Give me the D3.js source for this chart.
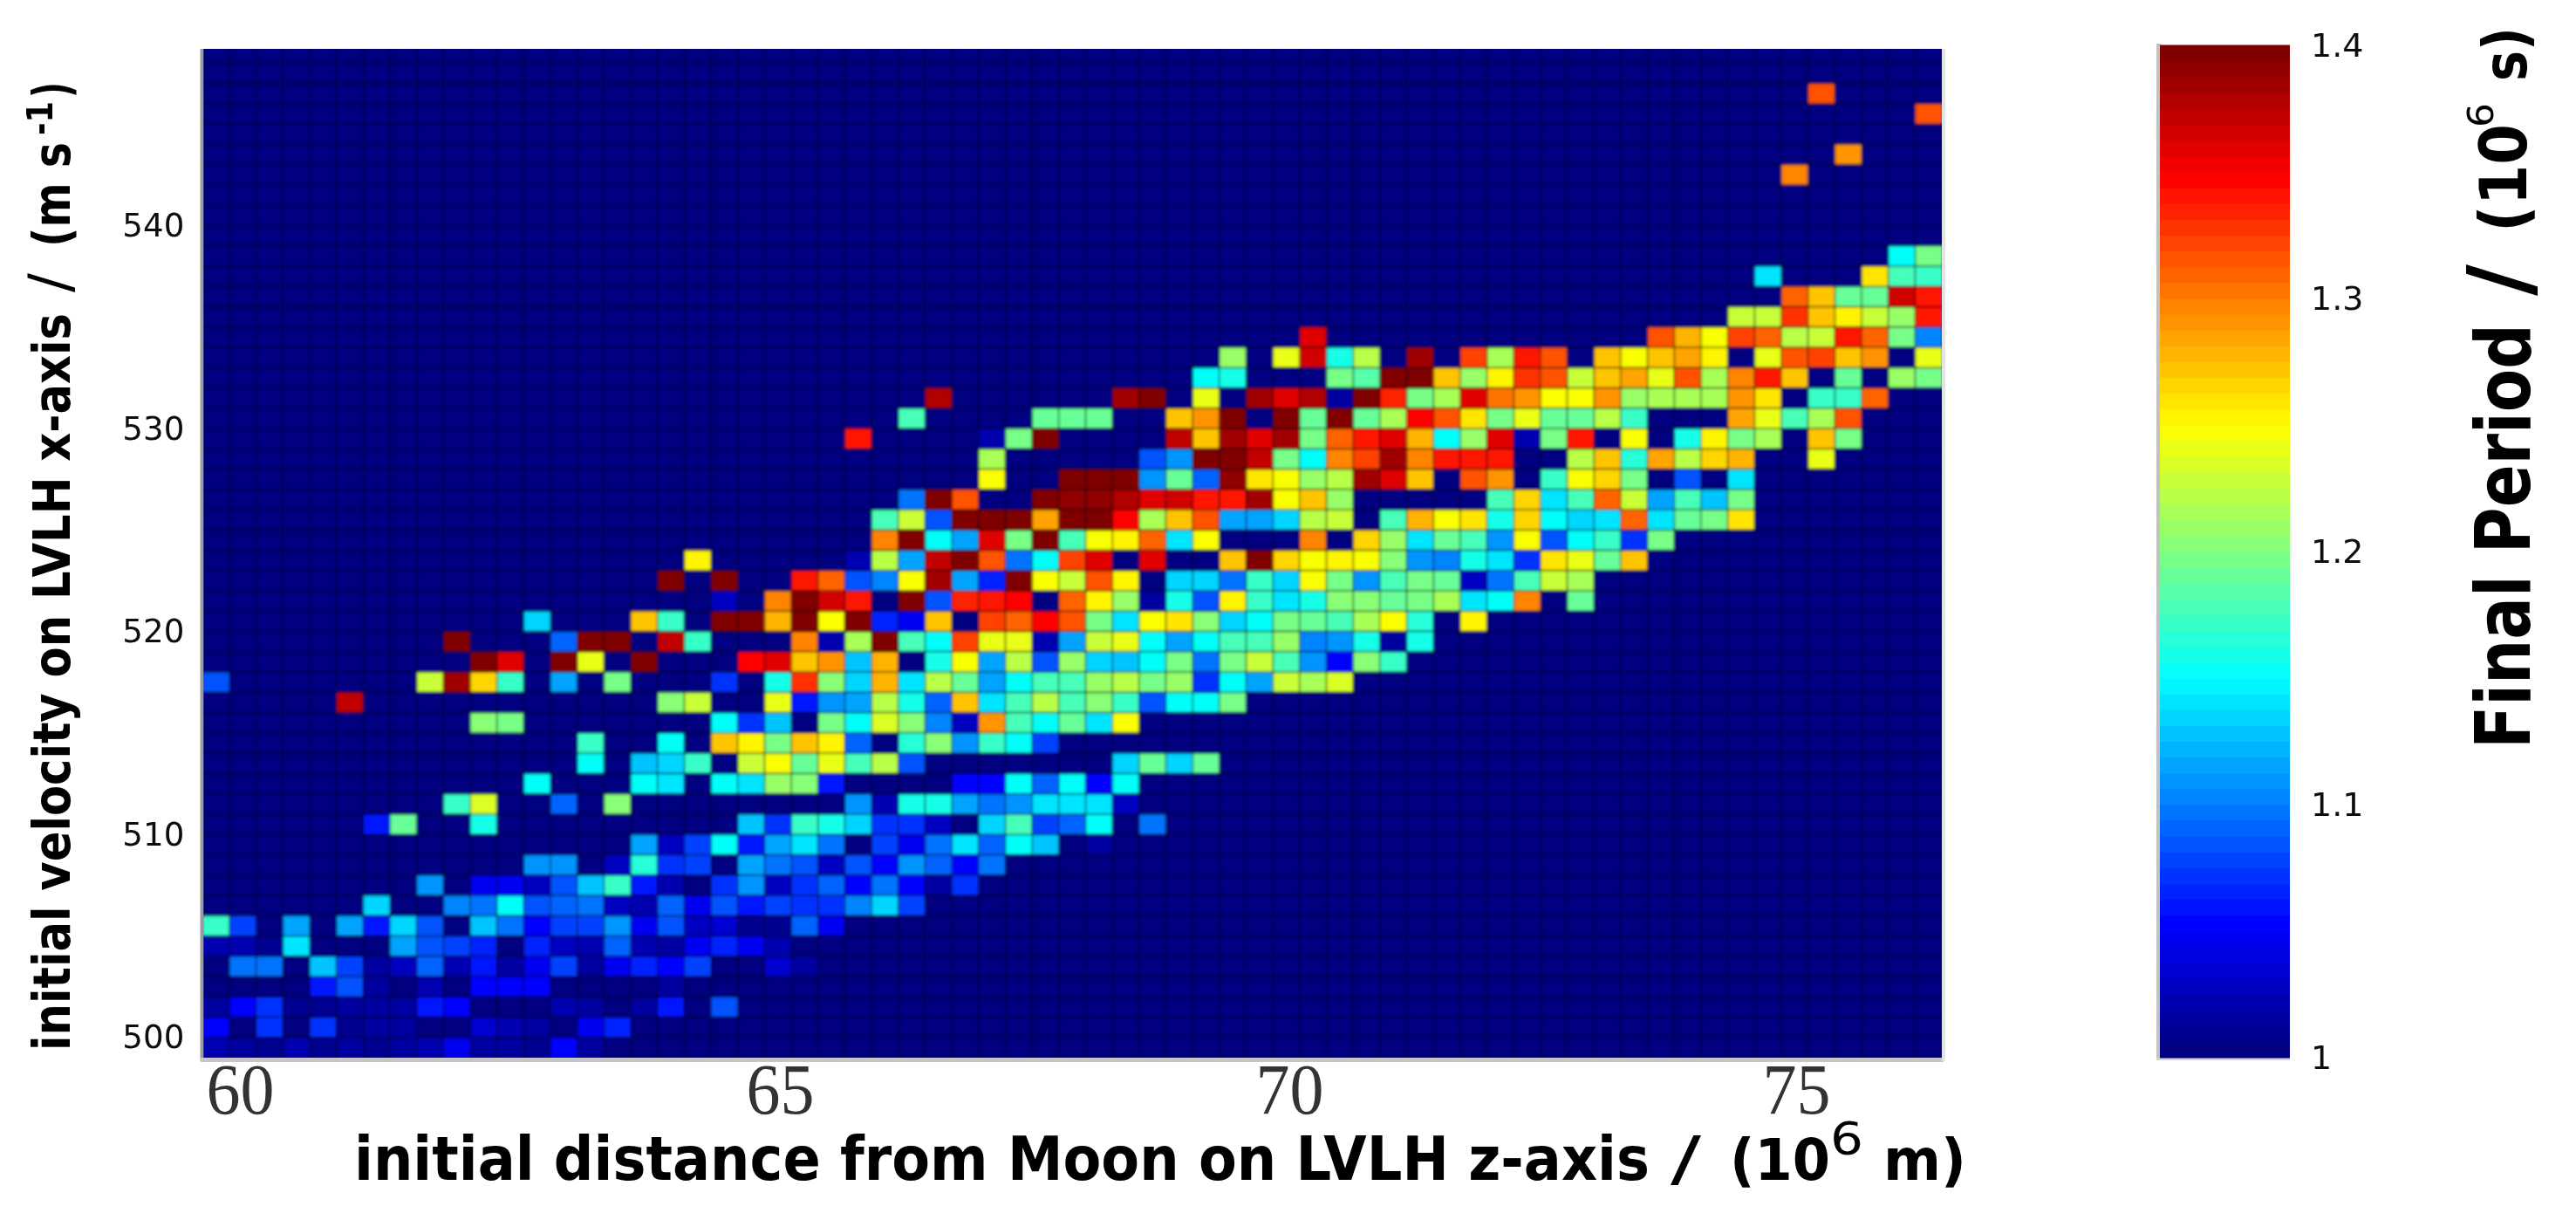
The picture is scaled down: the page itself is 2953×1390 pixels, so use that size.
<!DOCTYPE html>
<html>
<head>
<meta charset="utf-8">
<script src="https://cdn.jsdelivr.net/npm/d3@7/dist/d3.min.js"></script>
<style>html,body{margin:0;padding:0;background:#fff}svg{display:block}</style>
</head>
<body>
<svg id="chart" width="2953" height="1390"></svg>
<script>
// Final period (10^6 s) per grid cell; 0 means no value (drawn at the scale floor).
// Every row starts at the column given by the same index in firstColumn.
const firstColumn = [0,0,0,4,1,0,0,6,8,12,16,6,9,12,14,14,10,5,0,10,9,12,19,17,18,25,25,26,29,29,24,26,27,37,38,41,57,59,58,63,0,0,0,59,61,0,64,60];
const finalPeriod = [
[1.02,1.015,1.008,1.02,1.005,1.012,1.008,1.015,1.02,1.045,1.01,1.01,1.008,1.05,1.015],
[1.05,0,1.07,0,1.07,1.008,1.012,1.012,0,0,1.03,1.02,1.012,0,1.045,1.065],
[1.012,1.05,1.07,1.005,1.005,1.015,1.015,1.012,1.06,1.05,0,0,0,1.02,1.012,0,1.012,1.06,0,1.08],
[1.06,1.08,1.012,0,1.02,0,1.05,1.05,1.05,0,0,0,0,1.01],
[1.095,1.095,0,1.13,1.075,1.01,1.025,1.09,1.02,1.06,1.015,1.045,1.075,1.015,1.045,1.065,1.05,1.075,0,0,1.03,1.015],
[1.02,1.02,1.005,1.14,0,0,0,1.115,1.08,1.075,1.065,0,1.065,1.025,1.02,1.09,1.02,1.01,1.045,1.065,1.045,1.02],
[1.17,1.075,0,1.115,0,1.115,1.06,1.135,1.08,0,1.13,1.095,1.05,1.075,1.075,1.11,1.045,1.08,1.025,1.03,1.005,1.005,1.09,1.045],
[1.135,0,0,1.10,1.095,1.15,1.08,1.09,1.095,1.025,1.02,1.09,1.045,1.08,1.06,1.075,1.07,1.07,1.10,1.135,1.075],
[1.11,0,1.045,1.045,1.025,1.08,1.13,1.17,1.06,1.02,0,1.07,1.11,1.025,1.07,1.09,1.05,1.095,1.05,1.012,1.07],
[1.11,1.11,0,1.025,1.165,1.07,1.075,0,1.115,1.095,1.08,1.025,1.08,1.05,1.11,1.09,1.05,1.095],
[1.115,1.025,1.075,1.15,1.06,1.115,1.14,1.095,0,1.075,1.045,1.095,1.14,1.09,1.15,1.13,0,1.01],
[1.06,1.19,0,0,1.16,0,0,0,0,0,0,0,0,0,1.13,1.07,1.17,1.16,1.135,1.07,1.07,1.025,0,1.135,1.18,1.075,1.09,1.15,0,1.095],
[1.17,1.235,0,0,1.09,0,1.205,0,0,0,0,0,0,0,0,1.11,1.02,1.16,1.16,1.115,1.095,1.11,1.14,1.14,1.14,1.025],
[1.15,0,0,0,1.15,1.14,0,1.15,1.14,1.21,1.205,1.06,0,0,0,0,1.05,1.05,1.15,1.09,1.15,1.05,1.15],
[1.15,0,1.13,1.135,1.17,0,1.23,1.25,1.19,1.24,1.175,1.22,1.08,0,0,0,0,0,0,0,1.135,1.19,1.135,1.19],
[1.17,0,0,1.15,0,1.275,1.255,1.195,1.275,1.255,1.09,0,1.165,1.205,1.11,1.17,1.15,1.075],
[1.205,1.2,0,0,0,0,0,0,0,1.15,1.07,1.13,0,1.2,1.15,1.235,1.205,1.10,1.025,1.29,1.175,1.15,1.19,1.14,1.25],
[1.375,0,0,0,0,0,0,0,0,0,0,0,1.205,1.23,0,0,1.24,1.06,1.11,1.115,1.22,1.16,1.09,1.27,1.14,1.18,1.225,1.18,1.205,1.17,1.08,1.15,1.15,1.195],
[1.08,0,0,0,0,0,0,0,1.23,1.385,1.265,1.17,0,1.115,0,1.195,0,0,0,1.07,0,1.16,1.33,1.205,1.135,1.28,1.14,1.225,1.19,1.115,1.15,1.175,1.175,1.21,1.225,1.2,1.21,1.07,1.15,1.115,1.23,1.215,1.235],
[1.40,1.36,0,1.40,1.24,0,1.40,0,0,0,1.35,1.36,1.27,1.29,1.13,1.28,0,1.16,1.25,1.115,1.225,1.08,1.21,1.135,1.13,1.15,1.195,1.095,1.195,1.23,1.18,1.11,1.05,1.205,1.17],
[1.40,0,0,0,1.09,1.40,1.40,0,1.375,1.17,0,0,0,1.30,1.02,1.215,1.40,1.18,1.15,1.325,1.24,1.24,1.02,1.115,1.23,1.24,1.155,1.115,1.15,1.175,1.18,1.21,1.10,1.11,1.16,1.015,1.16],
[1.135,0,0,0,1.275,1.17,0,1.40,1.40,1.28,1.40,1.245,1.40,1.065,1.045,1.275,0,1.325,1.31,1.35,1.315,1.2,1.14,1.25,1.26,1.205,1.135,1.15,1.2,1.19,1.18,1.215,1.25,1.165,0,1.255],
[1.025,0,1.30,1.40,1.37,1.345,0,1.40,1.08,1.335,1.34,1.35,0,1.31,1.255,1.21,1.015,1.16,1.08,1.255,1.17,1.14,1.16,1.205,1.205,1.19,1.2,1.215,1.14,1.155,1.30,0,1.19],
[1.40,0,1.40,0,0,1.34,1.31,1.08,1.10,1.245,1.39,1.115,1.065,1.40,1.245,1.23,1.32,1.255,0,1.135,1.135,1.095,1.17,1.135,1.245,1.2,1.11,1.18,1.2,1.19,1.025,1.095,1.175,1.23,1.215],
[1.255,0,0,0,0,0,1.02,1.22,1.115,1.375,1.40,1.32,1.095,1.15,1.325,1.36,0,1.36,0,0,1.27,1.40,1.265,1.245,1.255,1.25,1.205,1.11,1.10,1.16,1.14,1.07,1.26,1.24,1.19,1.275],
[1.30,1.40,1.15,1.115,1.365,1.2,1.40,1.175,1.245,1.255,1.31,1.14,1.245,0,0,0,1.30,0,1.265,1.21,1.14,1.19,1.175,1.11,1.245,1.08,1.15,1.17,1.07,1.2],
[1.175,1.23,1.08,1.40,1.40,1.40,1.285,1.40,1.40,1.35,1.215,1.275,1.32,1.115,1.115,1.135,1.225,1.23,0,1.175,1.28,1.245,1.26,1.16,1.265,1.15,1.135,1.14,1.31,1.14,1.19,1.2,1.26],
[1.095,1.40,1.32,0,0,1.40,1.395,1.395,1.38,1.36,1.37,1.34,1.34,1.385,1.25,1.27,1.21,0,0,0,0,0,1.175,1.265,1.14,1.18,1.31,1.23,1.115,1.18,1.13,1.195],
[1.25,0,0,1.40,1.40,1.40,1.11,1.19,1.09,1.395,1.26,1.25,1.21,1.225,1.385,1.36,1.27,0,1.315,1.29,0,1.17,1.245,1.265,1.195,0,1.08,0,1.14],
[1.215,0,0,0,0,0,1.08,1.11,1.40,1.40,1.375,1.195,1.15,1.30,1.325,1.385,1.30,1.345,1.34,1.345,0,0,1.225,1.275,1.165,1.285,1.225,1.265,1.28,0,0,1.24],
[1.34,0,0,0,0,1.02,1.2,1.40,0,0,0,0,1.375,1.275,1.385,1.365,1.385,1.2,1.31,1.34,1.36,1.28,1.15,1.21,1.365,1.02,1.2,1.34,0,1.25,0,1.16,1.255,1.2,1.215,0,1.275,1.2],
[1.175,0,0,0,0,1.19,1.19,1.19,0,0,1.27,1.29,1.40,0,1.40,1.19,1.40,1.19,1.215,1.35,1.315,1.26,1.2,1.24,1.19,1.19,1.22,1.17,0,0,0,1.285,1.24,1.18,1.215,1.32],
[1.38,0,0,0,0,0,0,1.39,1.40,0,1.24,0,1.39,1.36,1.38,1.012,1.40,1.335,1.2,1.215,1.365,1.305,1.29,1.25,1.25,1.29,1.21,1.215,1.215,1.215,1.29,1.26,0,1.17,1.17,1.31],
[1.15,1.16,0,0,0,1.2,1.185,1.40,1.40,1.27,1.21,1.255,1.33,1.315,1.23,1.27,1.285,1.24,1.315,1.215,1.30,1.34,1.27,0,1.19,0,1.21,1.2],
[1.21,0,1.24,1.37,1.16,1.22,0,1.385,0,1.325,1.215,1.34,1.32,0,1.27,1.245,1.275,1.285,1.255,0,1.24,1.315,1.325,1.27,1.295,0,1.24],
[1.365,0,0,0,0,0,0,0,0,0,0,0,0,1.315,1.28,1.25,1.325,1.31,1.22,1.23,1.34,1.31,1.2,1.1],
[1.23,1.23,1.33,1.275,1.255,1.23,1.21,1.345],
[1.31,1.27,1.19,1.19,1.37,1.34],
[1.14,0,0,0,1.26,1.175,1.17],
[1.15,1.2],
[],[],[],
[1.30],
[1.295],
[],
[1.315],
[1.32]
];
const columnCount = 65;
const rowCount = 50;
const xTicks = [60,65,70,75];
const yTicks = [500,510,520,530,540];
const barTicks = [1,1.1,1.2,1.3,1.4];
const jetStops = [1,1.05,1.15,1.25,1.35,1.4];
const jetColors = ["#000080","#0000ff","#00ffff","#ffff00","#ff0000","#800000"];

const svg = d3.select("#chart");
const defs = svg.append("defs");
defs.append("filter").attr("id","soft").attr("x","-2%").attr("y","-2%").attr("width","104%").attr("height","104%")
  .append("feGaussianBlur").attr("stdDeviation",1.5);
defs.append("filter").attr("id","softText").attr("x","-5%").attr("y","-20%").attr("width","110%").attr("height","140%")
  .append("feGaussianBlur").attr("stdDeviation",0.7);

const plot = {left:232.3,right:2226,top:56,bottom:1212};
const bar = {left:2476,right:2625,top:52,bottom:1212};

const column = d3.scaleLinear().domain([0,columnCount]).range([plot.left,plot.right]);
const velocity = d3.scaleLinear().domain([499,548.7]).range([plot.bottom,plot.top]);
const distance = d3.scaleLinear().domain(xTicks).range([275,894,1478,2059]);
const jet = d3.scaleLinear().domain(jetStops).range(jetColors).interpolate(d3.interpolateRgb).clamp(true);
const levels = 64;
const quant = v => 1 + 0.4*Math.round((v-1)/0.4*(levels-1))/(levels-1);
const barScale = d3.scaleLinear().domain([1,1.4]).range([bar.bottom,bar.top]);

// frame edges
const frame = svg.append("g");
frame.append("rect").attr("x",229.5).attr("y",56).attr("width",5).attr("height",1160).attr("fill","#9a9aa6");
frame.append("rect").attr("x",230).attr("y",1212).attr("width",1998).attr("height",5).attr("fill","#c6c6c6");
frame.append("rect").attr("x",2226).attr("y",56).attr("width",4).attr("height",1160).attr("fill","#e4e4e4");
frame.append("rect").attr("x",2472).attr("y",50).attr("width",5).attr("height",1164).attr("fill","#c2c2c2");
frame.append("rect").attr("x",2472).attr("y",1212).attr("width",153).attr("height",3).attr("fill","#d4d4d4");

// heat map
const clipId = "plotClip";
defs.append("clipPath").attr("id",clipId).append("rect")
  .attr("x",plot.left+1).attr("y",plot.top).attr("width",plot.right-plot.left-1).attr("height",plot.bottom-plot.top);
const heat = svg.append("g").attr("clip-path",`url(#${clipId})`).append("g").attr("filter","url(#soft)");
heat.append("rect").attr("x",plot.left-10).attr("y",plot.top-10)
  .attr("width",plot.right-plot.left+20).attr("height",plot.bottom-plot.top+20).attr("fill",jet(1));

const cells = finalPeriod.flatMap((vals,r) => vals.map((v,i) => ({r,c:firstColumn[r]+i,v}))).filter(d => d.v>0);
heat.selectAll("rect.cell").data(cells).join("rect").attr("class","cell")
  .attr("x",d=>column(d.c)).attr("width",d=>column(d.c+1)-column(d.c))
  .attr("y",d=>velocity(499+d.r+1)).attr("height",d=>velocity(499+d.r)-velocity(499+d.r+1))
  .attr("fill",d=>jet(quant(d.v)));

heat.selectAll("line.v").data(d3.range(1,columnCount)).join("line").attr("class","v")
  .attr("x1",d=>column(d)).attr("x2",d=>column(d)).attr("y1",plot.top-10).attr("y2",plot.bottom+10)
  .attr("stroke","#000").attr("stroke-opacity",0.3).attr("stroke-width",2.5);
heat.selectAll("line.h").data(d3.range(1,rowCount)).join("line").attr("class","h")
  .attr("y1",d=>velocity(499+d)).attr("y2",d=>velocity(499+d)).attr("x1",plot.left-10).attr("x2",plot.right+10)
  .attr("stroke","#000").attr("stroke-opacity",0.34).attr("stroke-width",2.5);

// colour bar
const barGroup = svg.append("g");
barGroup.selectAll("rect").data(d3.range(levels)).join("rect")
  .attr("x",bar.left).attr("width",bar.right-bar.left)
  .attr("y",i=>barScale(1+0.4*(i+1)/levels)-0.5)
  .attr("height",i=>barScale(1+0.4*i/levels)-barScale(1+0.4*(i+1)/levels)+1)
  .attr("fill",i=>jet(1+0.4*i/(levels-1)));

// axes
const tickFont = g => g.call(s => s.select(".domain").remove())
  .call(s => s.selectAll("line").remove());
const xAxisG = svg.append("g").attr("transform",`translate(0,${plot.bottom})`)
  .call(d3.axisBottom(distance).tickValues(xTicks).tickSize(0).tickPadding(6).tickFormat(d3.format("d"))).call(tickFont);
xAxisG.selectAll("text").attr("font-family","'Liberation Serif',serif").attr("font-size",82).attr("fill","#333")
  .attr("textLength",78).attr("lengthAdjust","spacingAndGlyphs");
const yAxisG = svg.append("g").attr("transform",`translate(${plot.left},0)`)
  .call(d3.axisLeft(velocity).tickValues(yTicks).tickSize(0).tickPadding(21).tickFormat(d3.format("d"))).call(tickFont);
yAxisG.selectAll("text").attr("font-family","'DejaVu Sans',sans-serif").attr("font-size",38).attr("fill","#111")
  .attr("textLength",71).attr("lengthAdjust","spacingAndGlyphs").attr("filter","url(#softText)");
const barAxisG = svg.append("g").attr("transform",`translate(${bar.right},0)`)
  .call(d3.axisRight(barScale).tickValues(barTicks).tickSize(0).tickPadding(24).tickFormat(d=>String(d))).call(tickFont);
barAxisG.selectAll("text").attr("font-family","'DejaVu Sans',sans-serif").attr("font-size",38).attr("fill","#111")
  .attr("filter","url(#softText)");

// titles: [text, baseline x, baseline y, length, size, weight]
const label = (txt,x,y,rotate,len,size,weight="bold") => svg.append("text")
  .attr("transform",`translate(${x},${y}) rotate(${rotate})`)
  .attr("font-family","'DejaVu Sans',sans-serif").attr("font-weight",weight).attr("font-size",size)
  .attr("fill","#000").attr("textLength",len).attr("lengthAdjust","spacingAndGlyphs")
  .attr("filter","url(#softText)").text(txt);

label("initial distance from Moon on LVLH z-axis",406,1352,0,1485,70);
label("/",1915,1352,0,35,70,"normal");
label("(10",1983,1352,0,115,66);
label("6",2098,1323,0,38,52,"normal");
label("m)",2159,1352,0,95,66);

label("initial velocity on LVLH x-axis",80,1204,-90,845,58);
label("/",80,335,-90,22,66,"normal");
label("(m s",80,283,-90,120,58);
label("-1",60,155,-90,39,40);
label(")",80,112,-90,18,58);

label("Final Period",2900,858,-90,487,88);
label("/",2900,339,-90,36,100);
label("(10",2896,266,-90,124,74);
label("6",2858,146,-90,28,40,"normal");
label("s)",2896,93,-90,62,70);
</script>
</body>
</html>
